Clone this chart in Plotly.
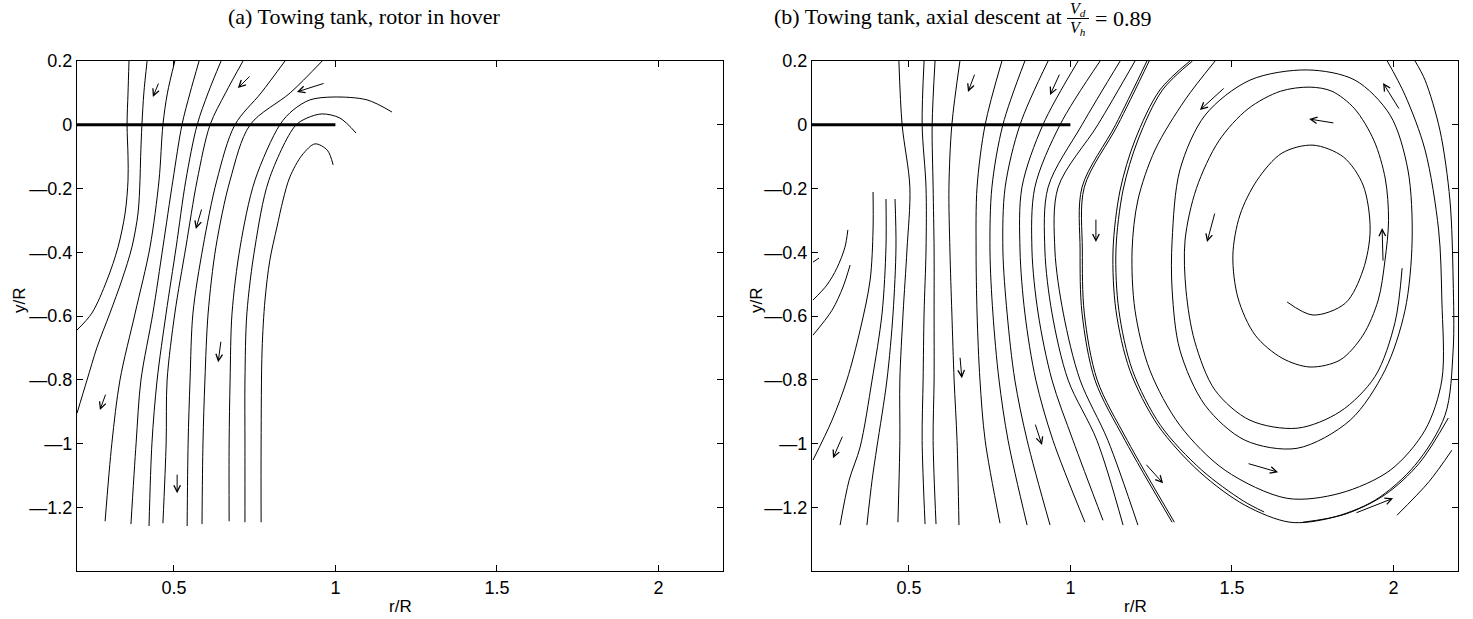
import plotly.graph_objects as go

# ---------------- Panel (a): rotor in hover -----------------
a_l1 = [(0.361,0.2),(0.358,0.1),(0.355,0.0),(0.358,-0.1),(0.358,-0.174),(0.349,-0.277),(0.327,-0.384),(0.293,-0.487),(0.246,-0.591),(0.2,-0.644)]
a_l2 = [(0.417,0.2),(0.407,0.1),(0.401,0.0),(0.397,-0.1),(0.395,-0.174),(0.389,-0.277),(0.370,-0.384),(0.339,-0.487),(0.302,-0.591),(0.262,-0.698),(0.231,-0.801),(0.2,-0.905)]
a_l3 = [(0.503,0.2),(0.48,0.1),(0.466,0.0),(0.454,-0.174),(0.426,-0.384),(0.380,-0.591),(0.333,-0.801),(0.308,-0.999),(0.287,-1.244)]
a_l4 = [(0.578,0.2),(0.55,0.1),(0.525,0.0),(0.497,-0.174),(0.466,-0.384),(0.435,-0.591),(0.398,-0.801),(0.383,-0.999),(0.367,-1.253)]
a_l5 = [(0.646,0.2),(0.606,0.1),(0.572,0.0),(0.537,-0.174),(0.507,-0.384),(0.476,-0.591),(0.448,-0.801),(0.432,-0.999),(0.423,-1.259)]
a_l6 = [(0.714,0.2),(0.66,0.1),(0.612,0.0),(0.572,-0.174),(0.537,-0.384),(0.503,-0.591),(0.479,-0.801),(0.476,-0.999),(0.466,-1.25)]
a_l7 = [(0.844,0.2),(0.77,0.1),(0.689,0.0),(0.633,-0.174),(0.590,-0.384),(0.559,-0.591),(0.550,-0.801),(0.544,-0.999),(0.541,-1.259)]
a_l8 = [(0.959,0.2),(0.86,0.1),(0.736,0.0),(0.674,-0.174),(0.630,-0.384),(0.606,-0.591),(0.596,-0.801),(0.590,-0.999),(0.587,-1.253)]
a_arch1 = [(1.175,0.04),(1.098,0.078),(0.993,0.087),(0.921,0.078),(0.869,0.046),(0.828,0.0),(0.751,-0.174),(0.705,-0.384),(0.680,-0.591),(0.674,-0.801),(0.671,-0.999),(0.671,-1.244)]
a_arch2 = [(1.064,-0.026),(1.014,0.021),(0.959,0.034),(0.912,0.021),(0.875,-0.004),(0.794,-0.174),(0.751,-0.384),(0.726,-0.591),(0.72,-0.801),(0.72,-0.999),(0.72,-1.247)]
a_arch3 = [(0.993,-0.126),(0.975,-0.08),(0.937,-0.06),(0.897,-0.095),(0.859,-0.164),(0.838,-0.236),(0.819,-0.321),(0.797,-0.425),(0.782,-0.55),(0.773,-0.707),(0.77,-0.999),(0.77,-1.247)]

a_arrow_tail_x = [0.454, 0.739, 0.968, 0.587, 0.646, 0.290, 0.510]
a_arrow_tail_y = [0.134, 0.156, 0.131, -0.261, -0.676, -0.842, -1.093]
a_arrow_head_x = [0.435, 0.698, 0.881, 0.568, 0.637, 0.271, 0.510]
a_arrow_head_y = [0.087, 0.115, 0.103, -0.327, -0.745, -0.895, -1.156]

# ---------------- Panel (b): axial descent -----------------
b_r1 = [(0.203,-0.431),(0.222,-0.418)]
b_r2 = [(0.311,-0.33),(0.302,-0.384),(0.277,-0.45),(0.246,-0.503),(0.203,-0.55)]
b_r3 = [(0.318,-0.44),(0.296,-0.509),(0.262,-0.582),(0.203,-0.66)]
b_r4 = [(0.389,-0.211),(0.389,-0.33),(0.38,-0.487),(0.349,-0.644),(0.308,-0.801),(0.262,-0.927),(0.203,-1.052)]
b_r5 = [(0.429,-0.233),(0.429,-0.384),(0.417,-0.591),(0.386,-0.801),(0.349,-1.011),(0.315,-1.115),(0.287,-1.256)]
b_r6 = [(0.457,-0.233),(0.46,-0.384),(0.451,-0.591),(0.432,-0.801),(0.401,-1.011),(0.386,-1.115),(0.37,-1.256)]

b_d_levels = [0.2, 0.0, -0.196, -0.393, -0.591, -0.801, -0.99]
b_d1 = [0.469, 0.479, 0.503, 0.494, 0.482, 0.472, 0.472, (0.466, -1.247)]
b_d2 = [0.547, 0.541, 0.553, 0.553, 0.547, 0.544, 0.541, (0.550, -1.253)]
b_d3 = [0.581, 0.572, 0.575, 0.578, 0.578, 0.578, 0.575, (0.584, -1.253)]
b_d4 = [0.658, 0.633, 0.624, 0.627, 0.633, 0.640, 0.649, (0.655, -1.256)]
b_d5 = [0.788, 0.736, 0.711, 0.708, 0.711, 0.720, 0.736, (0.782, -1.25)]
b_d6 = [0.859, 0.791, 0.757, 0.751, 0.760, 0.779, 0.807, (0.866, -1.256)]
b_d7 = [0.931, 0.844, 0.798, 0.791, 0.804, 0.828, 0.866, (0.937, -1.256)]
b_d8 = [1.024, 0.915, 0.850, 0.844, 0.859, 0.893, 0.946, (1.045, -1.247)]
b_d9 = [1.092, 0.968, 0.890, 0.881, 0.900, 0.943, 1.008, (1.101, -1.241)]
b_d10 = [1.154, 1.036, 0.931, 0.921, 0.943, 0.993, 1.082, (1.163, -1.256)]
b_d11 = [1.200, 1.085, 0.962, 0.952, 0.978, 1.030, 1.116, (1.209, -1.256)]
b_d12 = [1.237, 1.14, 1.036, 1.030, 1.036, 1.076, 1.169, (1.315, -1.247)]

b_spiral = [(1.671,-0.556),(1.751,-0.597),(1.851,-0.560),(1.906,-0.456),(1.928,-0.330),(1.906,-0.189),(1.845,-0.101),
            (1.751,-0.064),(1.655,-0.089),(1.578,-0.174),(1.525,-0.283),(1.503,-0.409),(1.519,-0.544),(1.572,-0.660),
            (1.655,-0.732),(1.742,-0.760),(1.835,-0.738),(1.906,-0.660),(1.953,-0.550),(1.974,-0.425),(1.985,-0.300),
            (1.975,-0.17),(1.94,-0.05),(1.88,0.05),(1.81,0.105),(1.742,0.118),(1.65,0.105),(1.55,0.05),(1.46,-0.05),
            (1.39,-0.2),(1.355,-0.362),(1.358,-0.52),(1.385,-0.68),(1.448,-0.833),(1.556,-0.927),(1.702,-0.952),
            (1.835,-0.90),(1.943,-0.79),(2.005,-0.62),(2.027,-0.45)]
b_loop3 = [(1.733,0.172),(1.881,0.140),(1.990,0.030),(2.045,-0.142),(2.058,-0.362),(2.036,-0.582),(1.974,-0.770),
           (1.866,-0.927),(1.702,-1.015),(1.541,-0.990),(1.417,-0.880),(1.339,-0.707),(1.315,-0.519),(1.315,-0.362),
           (1.339,-0.142),(1.417,0.030),(1.556,0.140),(1.733,0.172)]
b_loop4 = [(1.448,0.2),(1.355,0.078),(1.262,-0.079),(1.209,-0.236),(1.191,-0.393),(1.2,-0.582),(1.246,-0.770),
           (1.339,-0.943),(1.479,-1.084),(1.671,-1.172),(1.835,-1.156),(1.990,-1.084),(2.098,-0.958),(2.150,-0.801),
           (2.150,-0.550),(2.140,-0.330),(2.098,-0.079),(2.036,0.093),(1.981,0.2)]
b_loop5 = [(1.370,0.2),(1.277,0.109),(1.2,-0.048),(1.154,-0.205),(1.132,-0.393),(1.141,-0.582),(1.184,-0.770),
           (1.271,-0.943),(1.401,-1.090),(1.541,-1.194),(1.680,-1.247),(1.804,-1.234),(1.943,-1.178),(2.067,-1.068),
           (2.160,-0.911),(2.185,-0.707),(2.185,-0.487),(2.175,-0.236),(2.144,-0.017),(2.098,0.140),(2.067,0.2)]
b_loop5b = [(1.378,0.2),(1.285,0.109),(1.209,-0.048),(1.163,-0.205),(1.141,-0.393),(1.150,-0.582),(1.192,-0.770),
            (1.279,-0.943),(1.405,-1.082),(1.535,-1.180),(1.60,-1.215)]
b_loop5c = [(1.72,-1.247),(1.85,-1.222),(1.975,-1.160),(2.08,-1.062),(2.17,-0.92)]
b_edge = [(2.181,-1.021),(2.11,-1.12),(2.011,-1.225)]

b_arrow_tail_x = [0.705, 0.968, 1.079, 0.658, 0.890, 0.296, 1.231, 1.547, 1.881, 1.448, 1.968, 1.819, 1.479, 2.020]
b_arrow_tail_y = [0.162, 0.162, -0.293, -0.726, -0.936, -0.974, -1.062, -1.062, -1.219, -0.274, -0.431, 0.005, 0.118, 0.046]
b_arrow_head_x = [0.683, 0.937, 1.079, 0.664, 0.912, 0.265, 1.287, 1.643, 1.999, 1.423, 1.965, 1.739, 1.401, 1.968]
b_arrow_head_y = [0.103, 0.093, -0.368, -0.795, -1.005, -1.046, -1.125, -1.09, -1.172, -0.368, -0.324, 0.018, 0.046, 0.131]

blade_x = [0.2, 1.0]
blade_y = [0.0, 0.0]

x_ticks = [0.5, 1, 1.5, 2]
x_ticktext = ["0.5", "1", "1.5", "2"]
y_ticks = [0.2, 0, -0.2, -0.4, -0.6, -0.8, -1, -1.2]
y_ticktext = ["0.2", "0", "\u20140.2", "\u20140.4", "\u20140.6", "\u20140.8", "\u20141", "\u20141.2"]

# ------------------------------------------------------------
fig = go.Figure()

def add_line(pts, xa, ya, width=1.0):
    fig.add_trace(go.Scatter(x=[p[0] for p in pts], y=[p[1] for p in pts], mode="lines",
                             line=dict(color="black", width=width, shape="spline", smoothing=0.9),
                             xaxis=xa, yaxis=ya, hoverinfo="skip", showlegend=False))

for pts in [a_l1, a_l2, a_l3, a_l4, a_l5, a_l6, a_l7, a_l8, a_arch1, a_arch2, a_arch3]:
    add_line(pts, "x", "y")

for pts in [b_r1, b_r2, b_r3, b_r4, b_r5, b_r6]:
    add_line(pts, "x2", "y2")

def d_points(d):
    pts = [(d[i], b_d_levels[i]) for i in range(len(b_d_levels))]
    pts.append(d[-1])
    return pts

for d in [b_d1, b_d2, b_d3, b_d4, b_d5, b_d6, b_d7, b_d8, b_d9, b_d10, b_d11, b_d12]:
    add_line(d_points(d), "x2", "y2")
# second strand of the double line
add_line([(p[0] + 0.007, p[1]) for p in d_points(b_d12)], "x2", "y2")

for pts in [b_spiral, b_loop3, b_loop4, b_loop5, b_loop5b, b_loop5c, b_edge]:
    add_line(pts, "x2", "y2")

for xa, ya in [("x", "y"), ("x2", "y2")]:
    fig.add_trace(go.Scatter(x=blade_x, y=blade_y, mode="lines", line=dict(color="black", width=3),
                             xaxis=xa, yaxis=ya, hoverinfo="skip", showlegend=False))

annotations = []
def add_arrows(tx, ty, hx, hy, xa, ya):
    for i in range(len(tx)):
        annotations.append(dict(x=hx[i], y=hy[i], ax=tx[i], ay=ty[i], xref=xa, yref=ya, axref=xa, ayref=ya,
                                text="", showarrow=True, arrowhead=5, arrowsize=1.3, arrowwidth=1,
                                arrowcolor="black", standoff=0, startstandoff=0))

add_arrows(a_arrow_tail_x, a_arrow_tail_y, a_arrow_head_x, a_arrow_head_y, "x", "y")
add_arrows(b_arrow_tail_x, b_arrow_tail_y, b_arrow_head_x, b_arrow_head_y, "x2", "y2")

W, H = 1473, 619
serif = "Liberation Serif, Times New Roman, serif"
sans = "Liberation Sans, Arial, sans-serif"

def txt(text, px, py, size, family, xanchor="center", angle=0):
    annotations.append(dict(text=text, x=px / W, y=1 - py / H, xref="paper", yref="paper",
                            xanchor=xanchor, yanchor="middle", showarrow=False, textangle=angle,
                            font=dict(family=family, size=size, color="black")))

txt("(a) Towing tank, rotor in hover", 364, 17, 22, serif)
txt("(b) Towing tank, axial descent at", 1064, 17, 22, serif, xanchor="right")
txt("<i>V<sub>d</sub></i>", 1078, 9, 16, serif)
txt("<i>V<sub>h</sub></i>", 1078, 28, 16, serif)
txt("= 0.89", 1093, 18, 22, serif, xanchor="left")
txt("r/R", 400, 606, 17, sans)
txt("r/R", 1135, 606, 17, sans)
txt("y/R", 19, 300, 17, sans, angle=-90)
txt("y/R", 756, 300, 17, sans, angle=-90)

shapes = [dict(type="line", xref="paper", yref="paper", x0=1067 / W, x1=1089 / W,
               y0=1 - 18.5 / H, y1=1 - 18.5 / H, line=dict(color="black", width=1))]

def axis(domain, ticks, ticktext, rng, anchor):
    return dict(domain=domain, range=rng, tickvals=ticks, ticktext=ticktext, ticks="inside", ticklen=6,
                tickwidth=1, tickcolor="black", showline=True, linecolor="black", linewidth=1.3,
                mirror="ticks", showgrid=False, zeroline=False, anchor=anchor, automargin=False,
                tickfont=dict(family=sans, size=18, color="black"))

fig.update_layout(
    width=W, height=H, margin=dict(l=0, r=0, t=0, b=0, pad=0, autoexpand=False),
    paper_bgcolor="white", plot_bgcolor="white", showlegend=False,
    xaxis=axis([77 / W, 723 / W], x_ticks, x_ticktext, [0.2, 2.2], "y"),
    yaxis=axis([1 - 571 / H, 1 - 61 / H], y_ticks, y_ticktext, [-1.4, 0.2], "x"),
    xaxis2=axis([812 / W, 1458 / W], x_ticks, x_ticktext, [0.2, 2.2], "y2"),
    yaxis2=axis([1 - 571 / H, 1 - 61 / H], y_ticks, y_ticktext, [-1.4, 0.2], "x2"),
    annotations=annotations, shapes=shapes,
)

fig.write_html("out.html")
